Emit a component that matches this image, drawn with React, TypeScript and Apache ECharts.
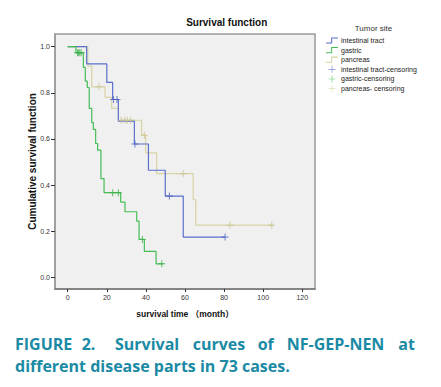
import React, { useEffect, useRef } from "react";
import * as echarts from "echarts";

// ---- data (months, cumulative survival) ----
const intestinalCurve: [number, number][] = [
  [0, 1.0], [9.7, 0.925], [20, 0.845], [23, 0.771], [25.9, 0.677], [34.1, 0.578],
  [41.3, 0.464], [49.9, 0.352], [59.1, 0.174], [80.5, 0.174],
];
const gastricCurve: [number, number][] = [
  [0, 1.0], [4.2, 0.974], [8, 0.91], [9, 0.851], [10, 0.823], [11, 0.732],
  [12.3, 0.671], [13.1, 0.641], [14.3, 0.58], [15.3, 0.551], [17, 0.428],
  [18.6, 0.367], [27.1, 0.326], [29.3, 0.284], [35.3, 0.243], [36.5, 0.164],
  [39.2, 0.112], [45.2, 0.058], [48.9, 0.058],
];
const pancreasCurve: [number, number][] = [
  [0, 1.0], [10.3, 0.916], [12.3, 0.826], [19.1, 0.78], [22.5, 0.732],
  [25.9, 0.681], [37.8, 0.616], [39.9, 0.539], [45.5, 0.449], [64.2, 0.336],
  [65.5, 0.226], [105.2, 0.226],
];
const intestinalCensor: [number, number][] = [
  [23.4, 0.771], [25.2, 0.771], [34.4, 0.578], [52, 0.352], [80.5, 0.174],
];
const gastricCensor: [number, number][] = [
  [5, 0.974], [5.6, 0.974], [6.2, 0.974], [6.9, 0.974], [23, 0.367],
  [25.9, 0.367], [38.2, 0.164], [48.1, 0.058],
];
const pancreasCensor: [number, number][] = [
  [16, 0.826], [27.3, 0.681], [29.3, 0.681], [30.5, 0.681], [32.2, 0.681],
  [39.2, 0.616], [59.1, 0.449], [83, 0.226], [104.4, 0.226],
];
const xTicks = [0, 20, 40, 60, 80, 100, 120];
const yTicks = [0, 0.2, 0.4, 0.6, 0.8, 1.0];
const seriesNames = [
  "intestinal tract", "gastric", "pancreas",
  "intestinal tract-censoring", "gastric-censoring", "pancreas- censoring",
];
const captionLine1 = ["FIGURE", "2.", "Survival", "curves", "of", "NF-GEP-NEN", "at"];
const captionLine1X = [15, 81.7, 115, 192.7, 257.7, 286.7, 398.3];
const captionLine2 = "different disease parts in 73 cases.";

const BLUE = "#5a6fcc";
const GREEN = "#45bd55";
const BEIGE = "#d8d3a4";
const CAP = "#1a8aa5";

const stepIcon = "path://M0,6 H6 V0 H14 V1.2 H7.2 V7.2 H0 Z";
const plusIcon = "path://M6,0 H7.2 V13 H6 Z M0,6 H13 V7.2 H0 Z";

export default function App() {
  const ref = useRef<HTMLDivElement>(null);
  useEffect(() => {
    if (!ref.current) return;
    const chart = echarts.init(ref.current, undefined, { renderer: "svg" });
    const font = "'Liberation Sans', Arial, 'Noto Sans CJK SC', sans-serif";
    const lineSeries = (name: string, data: [number, number][], color: string) => ({
      name,
      type: "line",
      step: "end",
      data,
      showSymbol: false,
      symbol: "none",
      lineStyle: { color, width: 1.2 },
      itemStyle: { color },
      z: 3,
    });
    const censorSeries = (name: string, data: [number, number][], color: string) => ({
      name,
      type: "scatter",
      data,
      symbol: "path://M0,3 H7 V4 H0 Z M3,0 H4 V7 H3 Z",
      symbolSize: 7,
      itemStyle: { color },
      z: 4,
    });
    const graphics: any[] = captionLine1.map((w, i) => ({
      type: "text",
      left: captionLine1X[i],
      top: 336,
      style: {
        text: w,
        fill: CAP,
        font: "bold 16px 'Open Sans', sans-serif",
      },
    }));
    graphics.push({
      type: "text",
      left: 15,
      top: 358,
      style: {
        text: captionLine2,
        fill: CAP,
        font: "bold 16px 'Open Sans', sans-serif",
      },
    });
    chart.setOption({
      animation: false,
      backgroundColor: "#ffffff",
      textStyle: { fontFamily: font },
      title: [
        {
          text: "Survival function",
          left: 221.7,
          top: 12,
          textAlign: "center",
          textStyle: { fontSize: 10, fontWeight: "bold", color: "#111", fontFamily: font },
        },
        {
          text: "Tumor site",
          left: 368.5,
          top: 19,
          textAlign: "center",
          textStyle: { fontSize: 8, fontWeight: "normal", color: "#333", fontFamily: font },
        },
      ],
      legend: {
        orient: "vertical",
        left: 321,
        top: 32,
        itemWidth: 12,
        itemHeight: 7,
        itemGap: 2.6,
        selectedMode: false,
        textStyle: { fontSize: 7, color: "#222", fontFamily: font, padding: [0, 0, 0, -2] },
        data: [
          { name: seriesNames[0], icon: stepIcon, itemStyle: { color: BLUE } },
          { name: seriesNames[1], icon: stepIcon, itemStyle: { color: GREEN } },
          { name: seriesNames[2], icon: stepIcon, itemStyle: { color: BEIGE } },
          { name: seriesNames[3], icon: plusIcon, itemStyle: { color: BLUE } },
          { name: seriesNames[4], icon: plusIcon, itemStyle: { color: GREEN } },
          { name: seriesNames[5], icon: plusIcon, itemStyle: { color: BEIGE } },
        ],
      },
      grid: {
        left: 55,
        right: 126,
        top: 34,
        bottom: 98,
        show: true,
        backgroundColor: "#f0f0f0",
        borderColor: "#9a9a9a",
        borderWidth: 1.5,
      },
      xAxis: {
        type: "value",
        min: -6.5,
        max: 126.5,
        name: "survival time （month）",
        nameLocation: "middle",
        nameGap: 21,
        nameMoveOverlap: false,
        nameTextStyle: { fontSize: 8.5, fontWeight: "bold", color: "#111", fontFamily: font },
        axisLine: { show: true, onZero: false, lineStyle: { color: "#777", width: 1.5 } },
        axisTick: { show: true, customValues: xTicks, length: 3, lineStyle: { color: "#333" } },
        axisLabel: {
          customValues: xTicks,
          fontSize: 7,
          color: "#333",
          margin: 5,
          formatter: (v: number) => String(v),
        },
        splitLine: { show: false },
      },
      yAxis: {
        type: "value",
        min: -0.051,
        max: 1.055,
        name: "Cumulative survival function",
        nameLocation: "middle",
        nameGap: 18,
        nameMoveOverlap: false,
        nameTextStyle: { fontSize: 10, fontWeight: "bold", color: "#111", fontFamily: font },
        axisLine: { show: true, onZero: false, lineStyle: { color: "#9a9a9a", width: 1.5 } },
        axisTick: { show: true, customValues: yTicks, length: 4, lineStyle: { color: "#333" } },
        axisLabel: {
          customValues: yTicks,
          fontSize: 7,
          color: "#333",
          margin: 5,
          formatter: (v: number) => v.toFixed(1),
        },
        splitLine: { show: false },
      },
      series: [
        lineSeries(seriesNames[2], pancreasCurve, BEIGE),
        lineSeries(seriesNames[0], intestinalCurve, BLUE),
        lineSeries(seriesNames[1], gastricCurve, GREEN),
        censorSeries(seriesNames[5], pancreasCensor, "#c9c391"),
        censorSeries(seriesNames[3], intestinalCensor, "#4a5fc0"),
        censorSeries(seriesNames[4], gastricCensor, "#3db04c"),
      ],
      graphic: graphics,
    });
    return () => chart.dispose();
  }, []);
  return <div ref={ref} style={{ width: 441, height: 387, margin: -8 }} />;
}
